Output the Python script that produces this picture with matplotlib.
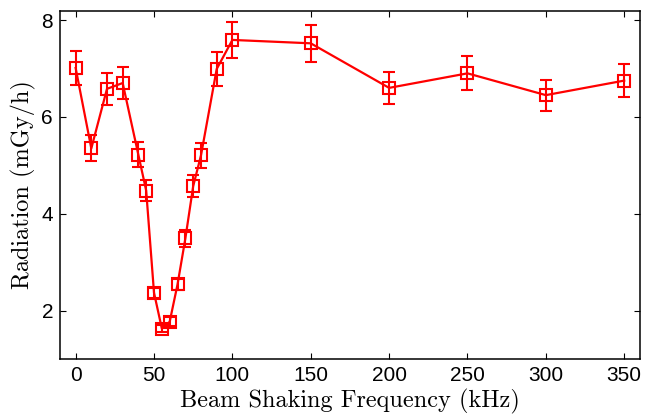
import matplotlib
matplotlib.use("Agg")
import matplotlib.pyplot as plt

# Beam shaking frequency (kHz) vs radiation (mGy/h)
freq = [0, 10, 20, 30, 40, 45, 50, 55, 60, 65, 70, 75, 80, 90, 100, 150, 200, 250, 300, 350]
rad = [7.01, 5.35, 6.58, 6.70, 5.22, 4.48, 2.37, 1.63, 1.77, 2.54, 3.49, 4.57, 5.21, 6.99, 7.59, 7.52, 6.60, 6.90, 6.45, 6.75]
rad_err = [0.35, 0.27, 0.33, 0.34, 0.26, 0.22, 0.10, 0.08, 0.09, 0.12, 0.17, 0.23, 0.26, 0.35, 0.38, 0.38, 0.33, 0.35, 0.32, 0.34]

fig = plt.figure(figsize=(6.59, 4.18), dpi=100)
ax = fig.add_axes([0.091, 0.141, 0.880, 0.833])

ax.errorbar(freq, rad, yerr=rad_err, color='red', marker='s', markersize=8,
            markerfacecolor='none', markeredgewidth=1.5, linewidth=1.6,
            capsize=4, capthick=1.5, elinewidth=1.5)

ax.set_xlim(-10, 360)
ax.set_ylim(1.0, 8.19)
ax.set_xticks(range(0, 351, 50))
ax.set_yticks([2, 4, 6, 8])
ax.tick_params(direction='in', top=True, right=True, length=4, width=0.8,
               labelsize=15, pad=5)
for lab in ax.get_xticklabels() + ax.get_yticklabels():
    lab.set_fontfamily('Liberation Sans')
for s in ax.spines.values():
    s.set_linewidth(1.1)

ax.set_xlabel("Beam Shaking Frequency (kHz)", fontfamily='cmr10', fontsize=17.5, labelpad=3)
ax.set_ylabel("Radiation (mGy/h)", fontfamily='cmr10', fontsize=17.5, labelpad=4)

fig.savefig("out.png", dpi=100)
